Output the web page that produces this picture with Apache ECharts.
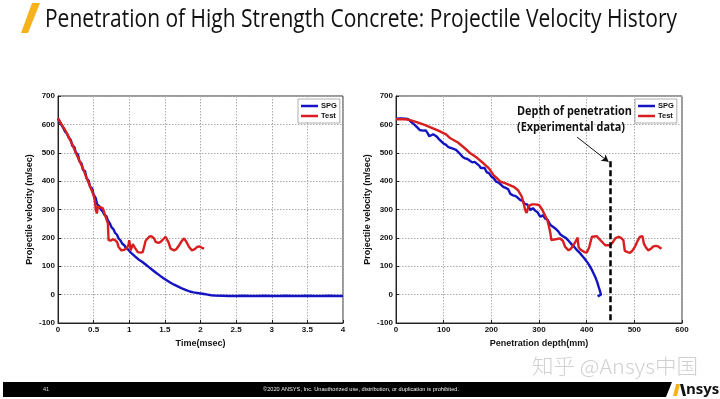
<!DOCTYPE html>
<html><head><meta charset="utf-8">
<script src="https://cdn.jsdelivr.net/npm/echarts@6/dist/echarts.min.js"></script>
<style>html,body{margin:0;padding:0;background:#fff}#c{width:720px;height:399px}</style>
</head><body><div id="c"></div>
<script>
// ---- Data: left chart (velocity vs time) ----
var spgTime = [0,0.03,0.05,0.08,0.1,0.13,0.15,0.18,0.2,0.23,0.25,0.28,0.3,0.33,0.35,0.38,0.4,0.43,0.45,0.48,0.5,0.53,0.55,0.58,0.6,0.63,0.65,0.68,0.7,0.73,0.75,0.78,0.8,0.83,0.85,0.88,0.9,0.93,0.95,0.98,1.0,1.03,1.05,1.08,1.1,1.13,1.15,1.18,1.2,1.23,1.25,1.28,1.3,1.33,1.35,1.38,1.4,1.43,1.45,1.48,1.5,1.53,1.55,1.58,1.6,1.63,1.65,1.68,1.7,1.73,1.75,1.78,1.8,1.85,1.9,1.95,2.0,2.05,2.1,2.15,2.2,2.3,2.4,2.5,2.6,2.7,2.8,2.9,3.0,3.1,3.2,3.3,3.4,3.5,3.6,3.7,3.8,3.9,4.0];
var spgVelT = [620,606,600,585,574,566,554,545,525,520,500,494,470,462,440,435,410,402,380,374,352,340,318,312,300,292,282,276,262,250,238,230,218,210,198,190,180,174,166,160,154,146,140,135,130,124,120,116,112,106,100,96,90,86,80,76,71,67,62,58,54,50,45,42,38,35,31,29,26,23,20,18,15,11,8,6,4,2,0,-2,-3,-4,-5,-5,-4,-5,-5,-4,-5,-5,-4,-5,-5,-4,-5,-5,-4,-5,-5];
var testTime = [0,0.05,0.1,0.15,0.2,0.25,0.3,0.35,0.4,0.45,0.5,0.52,0.53,0.545,0.56,0.6,0.63,0.66,0.7,0.71,0.74,0.77,0.8,0.83,0.85,0.89,0.93,0.96,0.99,1.0,1.02,1.05,1.08,1.12,1.16,1.19,1.23,1.28,1.31,1.35,1.37,1.41,1.44,1.48,1.51,1.55,1.58,1.63,1.66,1.7,1.74,1.77,1.79,1.81,1.84,1.88,1.92,1.95,1.99,2.02,2.05];
var testVelT = [622,600,580,555,530,500,472,445,412,382,350,327,300,286,310,308,304,280,251,192,190,195,192,185,168,156,158,162,175,192,156,178,165,150,148,150,190,204,206,198,186,182,186,196,204,185,162,156,160,174,190,198,204,182,168,156,160,168,170,165,162];

// ---- Data: right chart (velocity vs penetration depth) ----
var spgDepth = [0,10,20,26,32,38,44,50,56,62,66,70,74,78,82,86,90,95,100,105,110,114,118,122,126,130,135,140,145,150,155,160,165,170,175,178,182,186,190,195,200,205,210,215,220,225,230,235,240,245,250,255,261,266,270,275,282,287,292,297,303,308,313,318,324,330,335,340,345,351,356,362,368,374,379,385,390,395,400,405,410,414,418,422,425,428,430,431,427,423];
var spgVelD = [620,621,620,618,608,600,590,580,578,579,570,558,556,565,568,556,548,540,532,528,520,524,515,517,510,506,495,485,480,478,472,466,468,461,454,446,440,446,432,428,416,410,398,395,388,380,376,372,355,350,348,342,333,330,320,318,298,305,296,290,274,280,268,264,245,238,232,224,212,205,200,190,178,168,158,148,138,128,117,105,90,76,62,45,28,12,0,-5,-6,-6];
var testDepth = [0,20,30,45,60,75,90,105,114,130,145,156,170,184,195,205,212,219,230,247,256,264,268,271,274,278,285,292,300,306,314,318,321,324,326,335,344,350,355,362,367,372,377,381,383,386,390,395,400,405,411,416,421,430,439,449,455,460,467,472,477,480,486,491,496,501,507,512,517,520,525,529,535,540,545,550,557];
var testVelD = [618,618,615,607,598,588,577,565,551,536,515,498,482,462,445,420,410,398,392,380,368,345,320,298,288,312,318,318,316,302,274,260,239,215,192,195,198,190,168,156,162,174,188,201,168,160,156,150,148,165,204,205,206,190,174,174,185,198,204,200,192,154,150,147,155,168,190,204,206,180,165,156,162,170,172,170,162];

// ---- Axes / labels ----
var timeTicks = {min: 0, max: 4, step: 0.5};
var depthTicks = {min: 0, max: 600, step: 100};
var velTicks = {min: -100, max: 700, step: 100};
var seriesNames = ['SPG', 'Test'];
var penetrationDepth = 450;      // experimental depth of penetration (mm)
var penetrationTop = 470;        // top of the dashed marker (m/sec)
var arrowFrom = [380, 555];
var arrowTo = [446, 468];

var titleText = 'Penetration of High Strength Concrete: Projectile Velocity History';
var annotLines = ['Depth of penetration', '(Experimental data)'];
var footerText = '\u00a92020 ANSYS, Inc. Unauthorized use, distribution, or duplication is prohibited.';
var pageNo = '41';
var watermark = '\u77e5\u4e4e @Ansys\u4e2d\u56fd';

function zip(a, b) { return a.map(function (v, i) { return [v, b[i]]; }); }

var mctx = document.createElement('canvas').getContext('2d');
function fit(text, font, w) { mctx.font = font; return w / mctx.measureText(text).width; }

var BLUE = '#1414c4', RED = '#d81e1e';
var tickFont = {fontFamily: 'Liberation Sans', fontWeight: 'bold', fontSize: 8, color: '#111'};
var nameFont = {fontFamily: 'Liberation Sans', fontWeight: 'bold', fontSize: 9, color: '#111'};

function xAx(idx, t, name) {
  return {
    type: 'value', gridIndex: idx, min: t.min, max: t.max, interval: t.step,
    name: name, nameLocation: 'middle', nameGap: 13, nameTextStyle: nameFont,
    axisLine: {show: true, onZero: false, lineStyle: {color: '#222', width: 1}},
    axisTick: {show: true, inside: true, length: 3, lineStyle: {color: '#222'}},
    axisLabel: Object.assign({margin: 3}, tickFont),
    splitLine: {show: true, lineStyle: {type: [1.5, 1.5], color: '#aaa', width: 1}}
  };
}
function yAx(idx) {
  return {
    type: 'value', gridIndex: idx, min: velTicks.min, max: velTicks.max, interval: velTicks.step,
    name: 'Projectile velocity (m/sec)', nameLocation: 'middle', nameGap: 24, nameTextStyle: nameFont,
    axisLine: {show: true, onZero: false, lineStyle: {color: '#222', width: 1}},
    axisTick: {show: true, inside: true, length: 3, lineStyle: {color: '#222'}},
    axisLabel: Object.assign({margin: 3}, tickFont),
    splitLine: {show: true, lineStyle: {type: [1.5, 1.5], color: '#aaa', width: 1}}
  };
}
function legend(left, top) {
  return {
    left: left, top: top, orient: 'vertical', itemWidth: 17, itemHeight: 2.5, itemGap: 2,
    padding: [3, 3, 3, 3], backgroundColor: '#fff', borderColor: '#999', borderWidth: 0.8,
    borderRadius: 0, icon: 'rect', selectedMode: false,
    textStyle: {fontFamily: 'Liberation Sans', fontWeight: 'bold', fontSize: 7.5, color: '#111', padding: [0, 0, 0, -2]},
    data: seriesNames
  };
}
function line(name, xi, data, color, extra) {
  return Object.assign({
    type: 'line', name: name, xAxisIndex: xi, yAxisIndex: xi, data: data,
    showSymbol: false, symbol: 'none', lineStyle: {color: color, width: 2.4}, itemStyle: {color: color},
    animation: false, z: name === 'SPG' ? 3 : 4
  }, extra || {});
}

var titleFont = '400 24px "Open Sans"';
var annFont = 'bold 13px "Open Sans"';
var footFont = '5.5px "Liberation Sans"';
var wmFont = '300 20px "Noto Sans CJK SC"';

var graphics = [
  {type: 'polygon', shape: {points: [[32, 3], [40, 3], [28, 33], [21, 33]]}, style: {fill: '#F7B21A'}},
  {type: 'text', x: 45, y: 20, scaleX: fit(titleText, titleFont, 632), scaleY: 1.05, style: {text: titleText, font: titleFont, fill: '#111', textAlign: 'left', textVerticalAlign: 'middle'}},
  {type: 'text', x: 517, y: 111, scaleX: fit(annotLines[0], annFont, 115), style: {text: annotLines[0], font: annFont, fill: '#111', textVerticalAlign: 'middle'}, z: 10},
  {type: 'text', x: 517, y: 127, scaleX: fit(annotLines[1], annFont, 108), style: {text: annotLines[1], font: annFont, fill: '#111', textVerticalAlign: 'middle'}, z: 10},
  {type: 'text', x: 532, y: 366, scaleX: fit(watermark, wmFont, 166), style: {text: watermark, font: wmFont, fill: '#d0d0d0', textVerticalAlign: 'middle'}},
  {type: 'polygon', shape: {points: [[3, 382], [672, 382], [666, 397], [3, 397]]}, style: {fill: '#000'}},
  {type: 'text', x: 43, y: 389.5, style: {text: pageNo, font: footFont, fill: '#ddd', textVerticalAlign: 'middle'}},
  {type: 'text', x: 263, y: 389.5, scaleX: fit(footerText, footFont, 196), style: {text: footerText, font: footFont, fill: '#eee', textVerticalAlign: 'middle'}},
  {type: 'polygon', shape: {points: [[676, 384], [680, 384], [677, 396], [673, 396]]}, style: {fill: '#F7B21A'}},
  {type: 'polygon', shape: {points: [[680, 384], [683, 384], [686, 396], [683, 396]]}, style: {fill: '#111'}},
  {type: 'text', x: 686, y: 390, style: {text: 'nsys', font: 'bold 15px "Open Sans"', fill: '#111', textVerticalAlign: 'middle'}}
];

var option = {
  animation: false,
  backgroundColor: '#fff',
  grid: [
    {left: 58, top: 96, width: 285, height: 227, show: true, borderColor: '#333', borderWidth: 1, backgroundColor: '#fff'},
    {left: 396, top: 96, width: 286, height: 227, show: true, borderColor: '#333', borderWidth: 1, backgroundColor: '#fff'}
  ],
  xAxis: [xAx(0, timeTicks, 'Time(msec)'), xAx(1, depthTicks, 'Penetration depth(mm)')],
  yAxis: [yAx(0), yAx(1)],
  legend: [legend(298, 99), legend(635, 99)],
  series: [
    line('SPG', 0, zip(spgTime, spgVelT), BLUE),
    line('Test', 0, zip(testTime, testVelT), RED),
    line('SPG', 1, zip(spgDepth, spgVelD), BLUE, {
      markLine: {silent: true, animation: false, symbol: ['none', 'arrow'], symbolSize: [6, 7],
        label: {show: false}, lineStyle: {color: '#111', width: 1, type: 'solid'},
        data: [[{coord: arrowFrom}, {coord: arrowTo}]]}
    }),
    line('Test', 1, zip(testDepth, testVelD), RED, {
      markLine: {silent: true, animation: false, symbol: ['none', 'none'],
        label: {show: false}, lineStyle: {color: '#000', width: 2.5, type: [6, 3]},
        data: [[{coord: [penetrationDepth, penetrationTop]}, {coord: [penetrationDepth, velTicks.min]}]]}
    })
  ],
  graphic: graphics
};
var chart = echarts.init(document.getElementById('c'), null, {renderer: 'canvas'});
chart.setOption(option);
</script></body></html>
